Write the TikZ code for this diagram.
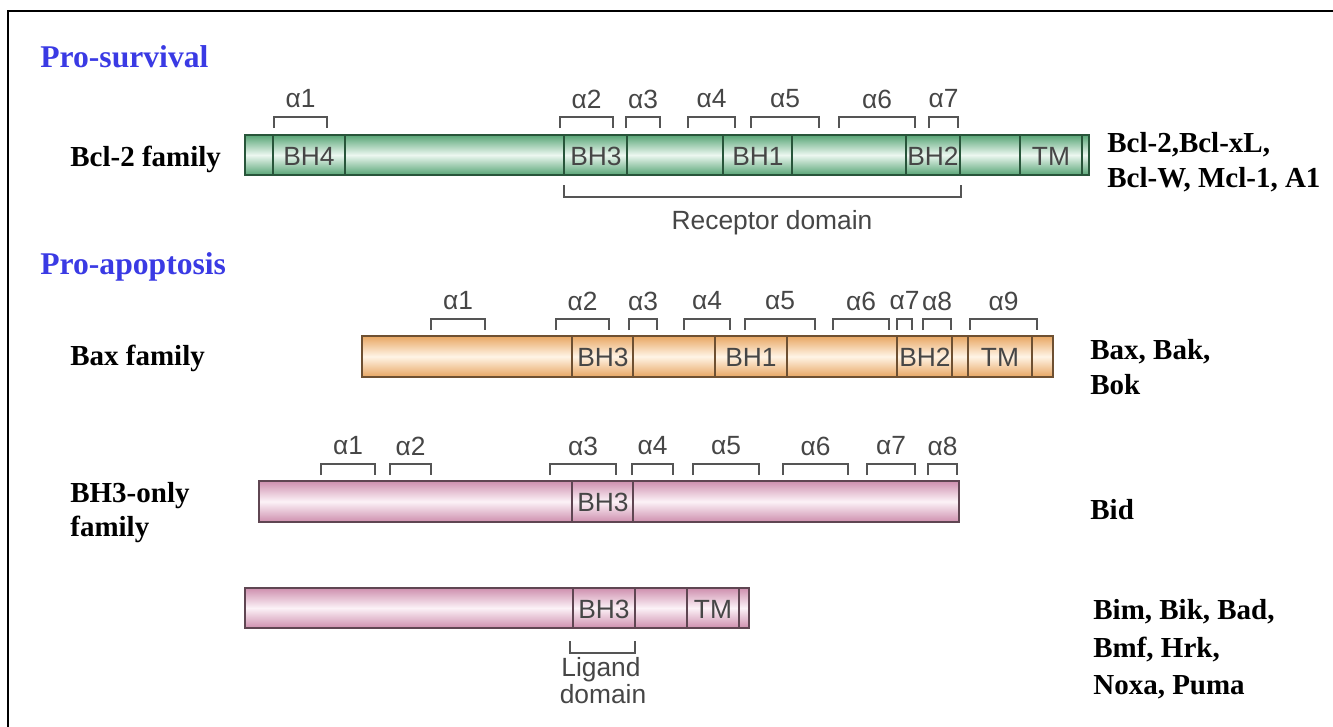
\documentclass[tikz,border=0pt]{standalone}
\usepackage{fontspec}
\setmainfont{Liberation Serif}
\setsansfont{Liberation Sans}
\definecolor{titleblue}{RGB}{58,58,228}
\definecolor{labelgray}{RGB}{70,70,70}
\definecolor{bracketgray}{RGB}{85,85,85}
\definecolor{greenedge}{RGB}{88,165,118}
\definecolor{greenmid}{RGB}{236,247,240}
\definecolor{greenline}{RGB}{40,85,58}
\definecolor{orangeedge}{RGB}{232,166,98}
\definecolor{orangemid}{RGB}{255,244,230}
\definecolor{orangeline}{RGB}{110,80,50}
\definecolor{pinkedge}{RGB}{206,143,174}
\definecolor{pinkmid}{RGB}{252,242,247}
\definecolor{pinkline}{RGB}{95,70,82}

\tikzset{
  group/.style={font=\fontsize{18}{20}\selectfont\bfseries, text=titleblue, anchor=base west},
  family/.style={font=\fontsize{16.5}{20}\selectfont\bfseries, anchor=base west},
  dom/.style={font=\sffamily\fontsize{15}{17}\selectfont, text=labelgray},
  helix/.style={draw=bracketgray, line width=0.8pt},
  greenbar/.style={top color=greenedge, bottom color=greenedge, middle color=greenmid, draw=greenline, line width=0.8pt},
  orangebar/.style={top color=orangeedge, bottom color=orangeedge, middle color=orangemid, draw=orangeline, line width=0.8pt},
  pinkbar/.style={top color=pinkedge, bottom color=pinkedge, middle color=pinkmid, draw=pinkline, line width=0.8pt}
}

% bracket over a helix: name, left, right, top, number
\newcommand{\helixmark}[5]{%
  \draw[helix] (#2,#4+11) -- (#2,#4) -- (#3,#4) -- (#3,#4+11);
  \node[dom] (#1) at ({(#2+#3)/2},#4-18) {α#5};
}

\begin{document}
\begin{tikzpicture}[x=0.02cm,y=-0.02cm,every node/.style={inner sep=0pt}]
  \useasboundingbox (0,0) rectangle (1333,727);
  % frame
  \draw[line width=1.1pt] (1333,11) -- (8,11) -- (8,727);

  % pro-survival
  \node[group] (prosurv) at (40,67) {Pro-survival};
  \node[family] (bcl2fam) at (70,166) {Bcl-2 family};
  \draw[greenbar] (245,135) rectangle (1089,175);
  \foreach \x in {273,345,564,627,723,792,906,960,1020,1082}
    \draw[draw=greenline, line width=0.8pt] (\x,135) -- (\x,175);
  \node[dom] (bcl-bh4) at (309,156) {BH4};
  \node[dom] (bcl-bh3) at (596,156) {BH3};
  \node[dom] (bcl-bh1) at (758,156) {BH1};
  \node[dom] (bcl-bh2) at (933,156) {BH2};
  \node[dom] (bcl-tm) at (1051,156) {TM};
  \helixmark{bcl-a1}{274}{327}{117}{1}
  \helixmark{bcl-a2}{560}{613}{117}{2}
  \helixmark{bcl-a3}{626}{660}{117}{3}
  \helixmark{bcl-a4}{688}{735}{117}{4}
  \helixmark{bcl-a5}{751}{819}{117}{5}
  \helixmark{bcl-a6}{839}{915}{117}{6}
  \helixmark{bcl-a7}{929}{958}{117}{7}
  \draw[helix] (564,185) -- (564,197) -- (961,197) -- (961,185);
  \node[dom, anchor=base] (receptor) at (772,229) {Receptor domain};
  \node[family] (bcl2list1) at (1107,152) {Bcl-2,Bcl-xL,};
  \node[family] (bcl2list2) at (1107,187) {Bcl-W, Mcl-1, A1};

  % pro-apoptosis
  \node[group] (proapop) at (40,274) {Pro-apoptosis};
  \node[family] (baxfam) at (70,365) {Bax family};
  \draw[orangebar] (362,336) rectangle (1053,377);
  \foreach \x in {572,633,715,787,897,952,968,1032}
    \draw[draw=orangeline, line width=0.8pt] (\x,336) -- (\x,377);
  \node[dom] (bax-bh3) at (603,357) {BH3};
  \node[dom] (bax-bh1) at (751,357) {BH1};
  \node[dom] (bax-bh2) at (925,357) {BH2};
  \node[dom] (bax-tm) at (1000,357) {TM};
  \helixmark{bax-a1}{431}{485}{319}{1}
  \helixmark{bax-a2}{556}{609}{319}{2}
  \helixmark{bax-a3}{629}{657}{319}{3}
  \helixmark{bax-a4}{684}{730}{319}{4}
  \helixmark{bax-a5}{745}{815}{319}{5}
  \helixmark{bax-a6}{833}{889}{319}{6}
  \helixmark{bax-a7}{897}{912}{319}{7}
  \helixmark{bax-a8}{923}{951}{319}{8}
  \helixmark{bax-a9}{970}{1037}{319}{9}
  \node[family] (baxlist1) at (1090,359) {Bax, Bak,};
  \node[family] (baxlist2) at (1090,394) {Bok};

  % BH3-only
  \node[family] (bh3fam1) at (70,502) {BH3-only};
  \node[family] (bh3fam2) at (70,536) {family};
  \draw[pinkbar] (259,481) rectangle (959,522);
  \foreach \x in {572,633}
    \draw[draw=pinkline, line width=0.8pt] (\x,481) -- (\x,522);
  \node[dom] (bid-bh3) at (603,502) {BH3};
  \helixmark{bid-a1}{321}{375}{464}{1}
  \helixmark{bid-a2}{390}{431}{464}{2}
  \helixmark{bid-a3}{550}{616}{464}{3}
  \helixmark{bid-a4}{632}{673}{464}{4}
  \helixmark{bid-a5}{693}{759}{464}{5}
  \helixmark{bid-a6}{783}{848}{464}{6}
  \helixmark{bid-a7}{867}{915}{464}{7}
  \helixmark{bid-a8}{928}{957}{464}{8}
  \node[family] (bidlist) at (1090,519) {Bid};

  \draw[pinkbar] (245,588) rectangle (749,628);
  \foreach \x in {573,635,687,739}
    \draw[draw=pinkline, line width=0.8pt] (\x,588) -- (\x,628);
  \node[dom] (bim-bh3) at (604,609) {BH3};
  \node[dom] (bim-tm) at (713,609) {TM};
  \draw[helix] (570,641) -- (570,653) -- (635,653) -- (635,641);
  \node[dom, anchor=base] (ligand1) at (601,676) {Ligand};
  \node[dom, anchor=base] (ligand2) at (603,703) {domain};
  \node[family] (bimlist1) at (1093,619) {Bim, Bik, Bad,};
  \node[family] (bimlist2) at (1093,657) {Bmf, Hrk,};
  \node[family] (bimlist3) at (1093,694) {Noxa, Puma};
\end{tikzpicture}
\end{document}
